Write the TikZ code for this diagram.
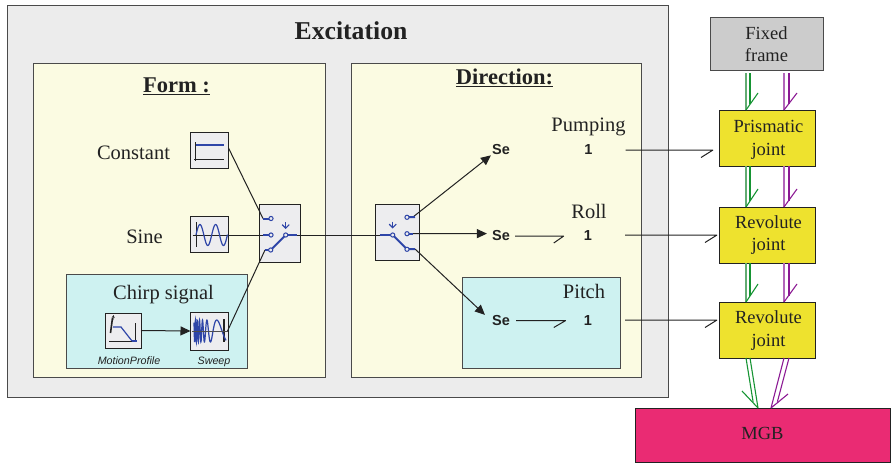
\documentclass[tikz,border=0pt]{standalone}
\usepackage{fontspec}
\setmainfont{Liberation Serif}
\setsansfont{Liberation Sans}
\usetikzlibrary{arrows.meta}
\definecolor{inkc}{HTML}{222222}
\definecolor{edgec}{HTML}{4A4A4A}
\definecolor{outerc}{HTML}{ECECEC}
\definecolor{panelc}{HTML}{FBFBE2}
\definecolor{cyanc}{HTML}{CEF2F1}
\definecolor{blockc}{HTML}{EDEDEF}
\definecolor{yellowc}{HTML}{EEE22E}
\definecolor{pinkc}{HTML}{EA2B73}
\definecolor{greyc}{HTML}{CCCCCC}
\definecolor{bluec}{HTML}{2E45A8}
\definecolor{greenc}{HTML}{169433}
\definecolor{greenl}{HTML}{62AC72}
\definecolor{purpc}{HTML}{8C1A94}
\definecolor{purpl}{HTML}{B267BA}
\newcommand{\dn}[2]{\raisebox{-#1}[12pt][4pt]{#2}}
\tikzset{
 box/.style={rectangle,draw=edgec,line width=1pt,inner sep=0pt,outer sep=0pt,anchor=north west},
 outerbox/.style={box,fill=outerc},
 panel/.style={box,fill=panelc},
 cyanbox/.style={box,fill=cyanc},
 block/.style={box,fill=blockc,draw=inkc,line width=1pt},
 greybox/.style={box,fill=greyc,text=inkc,font=\fontsize{18.5}{22}\selectfont,align=center},
 joint/.style={box,fill=yellowc,draw=inkc,text=inkc,font=\fontsize{18.5}{22.5}\selectfont,align=center},
 mgb/.style={box,fill=pinkc,draw=inkc,text=inkc,font=\fontsize{18.5}{22}\selectfont},
 lab/.style={text=inkc,inner sep=0pt,font=\fontsize{20.5}{24}\selectfont},
 head/.style={text=inkc,inner sep=0pt,font=\fontsize{22.5}{26}\selectfont\bfseries},
 bondlab/.style={text=inkc,inner sep=0pt,font=\fontsize{14.5}{17}\selectfont\sffamily\bfseries},
 small/.style={text=inkc,inner sep=0pt,font=\fontsize{10.7}{13}\selectfont\sffamily\itshape},
 wire/.style={draw=inkc,line width=1pt},
 sig/.style={wire,-{Triangle[length=10pt,width=9pt]}},
 bond/.style={draw=inkc,line width=1pt,line join=bevel},
 dbl/.style={line width=1.1pt,line join=bevel},
 icon/.style={draw=bluec,line width=1.2pt},
 iconb/.style={draw=bluec,line width=2pt},
 axis/.style={draw=inkc,line width=1pt},
 port/.style={circle,draw=bluec,fill=blockc,line width=1pt,inner sep=0pt,minimum size=4.2pt},
}
\begin{document}
\begin{tikzpicture}[x=1pt,y=-1pt]
\useasboundingbox (0,0) rectangle (891,463);
% containers
\node[outerbox,minimum width=661pt,minimum height=392pt] (outer) at (7,5) {};
\node[panel,minimum width=292pt,minimum height=314pt] (formp) at (33,63) {};
\node[panel,minimum width=290pt,minimum height=314pt] (dirp) at (351,63) {};
\node[cyanbox,minimum width=181pt,minimum height=94pt] (chirp) at (66,274) {};
\node[cyanbox,minimum width=158pt,minimum height=91pt] (pitchp) at (462,277) {};
% titles
\node[text=inkc,inner sep=0pt,font=\fontsize{25.7}{30}\selectfont\bfseries] (title) at (351,31) {Excitation};
\node[head] (formt) at (176.5,86) {\underline{Form :}};
\node[head] (dirt) at (504.5,78) {\underline{Direction:}};
% labels
\node[lab] (lconst) at (133.5,153) {Constant};
\node[lab] (lsine) at (144.5,237) {Sine};
\node[lab] (lchirp) at (163.5,295) {Chirp signal};
\node[lab] (lpump) at (588.5,127) {Pumping};
\node[lab] (lroll) at (589,211) {Roll};
\node[lab] (lpitch) at (584,291) {Pitch};
\node[small] (lmotion) at (129,361) {MotionProfile};
\node[small] (lsweep) at (214,362) {Sweep};
% blocks
\node[block,minimum width=38pt,minimum height=36pt] (const) at (190.5,132) {};
\node[block,minimum width=38pt,minimum height=36pt] (sine) at (190.5,216) {};
\node[block,minimum width=36pt,minimum height=35pt] (motion) at (105,313) {};
\node[block,minimum width=38pt,minimum height=38pt] (sweep) at (190.5,312) {};
\node[block,minimum width=41pt,minimum height=58pt] (swa) at (259,204) {};
\node[block,minimum width=44pt,minimum height=56pt] (swb) at (375,204) {};
% bond graph labels
\node[bondlab] (sea) at (501,150) {Se};
\node[bondlab] (seb) at (501,236) {Se};
\node[bondlab] (sec) at (501,320.5) {Se};
\node[bondlab] (onea) at (588.5,150) {1};
\node[bondlab] (oneb) at (588,236) {1};
\node[bondlab] (onec) at (588,320.5) {1};
% mechanical
\node[greybox,minimum width=113pt,minimum height=53pt] (fixed) at (710,17) {\dn{2.5pt}{Fixed}\\\dn{2.5pt}{frame}};
\node[joint,minimum width=96pt,minimum height=56pt] (prism) at (719,110) {\dn{2pt}{\kern3pt Prismatic}\\\dn{2pt}{\kern3pt joint}};
\node[joint,minimum width=96pt,minimum height=56pt] (reva) at (719,207) {\dn{.5pt}{\kern3pt Revolute}\\\dn{.5pt}{\kern3pt joint}};
\node[joint,minimum width=96pt,minimum height=56pt] (revb) at (719,302) {\dn{.5pt}{\kern3pt Revolute}\\\dn{1.5pt}{\kern3pt joint}};
\node[mgb,minimum width=255pt,minimum height=54pt] (mgbn) at (635,408) {\dn{0pt}{MGB}};
% switch ports
\coordinate (a1) at (263,218.5); \coordinate (a2) at (263,235); \coordinate (a3) at (265,250);
\coordinate (ao) at (297,235);
\coordinate (bi) at (380,235);
\coordinate (b1) at (413,217); \coordinate (b2) at (410,233.7); \coordinate (b3) at (415,249);
% wires
\draw[wire] ([yshift=2pt]const.east) -- (a1);
\draw[wire] ([xshift=2pt,yshift=-1pt]sine.west) -- (a2);
\draw[wire] ([xshift=-1pt,yshift=0pt]sweep.east) -- (a3);
\draw[wire] (ao) -- (bi);
\draw[sig] (motion.east) -- (sweep.west);
\draw[sig] (b1) -- ([xshift=-1pt,yshift=0pt]sea.south west);
\draw[sig] (b2) -- ([xshift=-5pt,yshift=2.4pt]seb.west);
\draw[sig] (b3) -- ([xshift=-7pt,yshift=11pt]sec.south west);
% bonds
\draw[bond] ([xshift=5pt]seb.east) -- ([xshift=-20pt]oneb.west) -- ++(-10,7);
\draw[bond] ([xshift=6pt]sec.east) -- ([xshift=-18pt]onec.west) -- ++(-12,7);
\draw[bond] ([xshift=33pt]onea.east) -- ([xshift=-6pt,yshift=-12pt]prism.west) -- ++(-12,7.5);
\draw[bond] ([xshift=33pt,yshift=1pt]oneb.east) -- ([xshift=-2pt]reva.west) -- ++(-12,7.5);
\draw[bond] ([xshift=33pt,yshift=.5pt]onec.east) -- ([xshift=-2pt,yshift=10pt]revb.west) -- ++(-12,7.5);
% double lines
\draw[dbl,draw=greenl] ([xshift=36pt,yshift=-3pt]fixed.south west) -- ([xshift=27pt]prism.north west);
\draw[dbl,draw=greenc] ([xshift=27pt]prism.north west) -- ++(12,-17);
\draw[dbl,draw=greenc] ([xshift=40pt,yshift=-3pt]fixed.south west) -- ([xshift=31pt,yshift=5.7pt]prism.north west);
\draw[dbl,draw=purpl] ([xshift=74pt,yshift=-3pt]fixed.south west) -- ([xshift=65pt]prism.north west);
\draw[dbl,draw=purpc] ([xshift=65pt]prism.north west) -- ++(13,-17);
\draw[dbl,draw=purpc] ([xshift=79pt,yshift=-3pt]fixed.south west) -- ([xshift=70pt,yshift=5.7pt]prism.north west);
\draw[dbl,draw=greenl] ([xshift=27pt]prism.south west) -- ([xshift=27pt]reva.north west);
\draw[dbl,draw=greenc] ([xshift=27pt]reva.north west) -- ++(12,-18);
\draw[dbl,draw=greenc] ([xshift=31pt]prism.south west) -- ([xshift=31pt,yshift=5.7pt]reva.north west);
\draw[dbl,draw=purpl] ([xshift=65pt]prism.south west) -- ([xshift=65pt]reva.north west);
\draw[dbl,draw=purpc] ([xshift=65pt]reva.north west) -- ++(13,-18);
\draw[dbl,draw=purpc] ([xshift=70pt]prism.south west) -- ([xshift=70pt,yshift=5.7pt]reva.north west);
\draw[dbl,draw=greenl] ([xshift=27pt]reva.south west) -- ([xshift=27pt]revb.north west);
\draw[dbl,draw=greenc] ([xshift=27pt]revb.north west) -- ++(12,-18);
\draw[dbl,draw=greenc] ([xshift=31pt]reva.south west) -- ([xshift=31pt,yshift=5.7pt]revb.north west);
\draw[dbl,draw=purpl] ([xshift=65pt]reva.south west) -- ([xshift=65pt]revb.north west);
\draw[dbl,draw=purpc] ([xshift=65pt]revb.north west) -- ++(13,-18);
\draw[dbl,draw=purpc] ([xshift=70pt]reva.south west) -- ([xshift=70pt,yshift=5.7pt]revb.north west);
\draw[dbl,draw=greenc] ([xshift=31pt]revb.south west) -- ([xshift=123pt]mgbn.north west) -- ++(-16,-17);
\draw[dbl,draw=greenc] ([xshift=27pt]revb.south west) -- ([xshift=118.1pt,yshift=6.2pt]mgbn.north west);
\draw[dbl,draw=purpc] ([xshift=65pt]revb.south west) -- ([xshift=136pt]mgbn.north west) -- ++(17,-14);
\draw[dbl,draw=purpc] ([xshift=70pt]revb.south west) -- ([xshift=142.4pt,yshift=6.3pt]mgbn.north west);
% icon: constant
\draw[axis] (195.7,142) -- (195.7,161);
\draw[axis] (194,159) -- (224,159);
\draw[iconb] (196,145) -- (224,145);
% icon: sine
\draw[axis] (196,222) -- (196,247);
\draw[icon,smooth] plot[domain=196:227.5,samples=70] (\x,{235-10.5*sin(360*(\x-196)/15.7)});
% icon: motion profile
\draw[axis,line width=1.6pt] (112.5,318) -- (110.5,333);
\draw[axis,-{Stealth[length=3pt,width=3pt]},line width=.6pt] (113,320) -- (113.5,315);
\draw[axis] (109,341) -- (137,341);
\draw[axis,line width=1.3pt] (135.7,323) -- (135.7,342);
\draw[icon] (113,327) -- (121,327) -- (132,341);
\draw[iconb] (132,341) -- (137,341);
% icon: sweep
\draw[axis,line width=1.3pt] (224,319) -- (224,342);
\draw[icon,smooth] plot[domain=194:226,samples=220] (\x,{331-11*sin(360*(5*((226-\x)/32)^4+1.3*((226-\x)/32))-58)});
\draw[axis,draw=inkc!80] (192,331) -- (228,331);
% switch A
\draw[iconb] (263,218.5) -- (271,218.5);
\draw[iconb] (263,235) -- (271,235);
\draw[iconb] (265,250) -- (270.7,250);
\draw[iconb] (285.7,235) -- (297,235);
\draw[iconb] (285.7,235) -- (270.7,250);
\node[port] (pa1) at (271,218.5) {};
\node[port] (pa2) at (271,235) {};
\node[port] (pa3) at (270.7,250) {};
\node[port] (pao) at (285.7,235) {};
\draw[icon,-{Straight Barb[length=3.5pt,width=7pt]}] (285.7,222) -- (285.7,229);
% switch B
\draw[iconb] (380,235) -- (392.7,235);
\draw[iconb] (392.7,235) -- (407,249.3);
\draw[iconb] (407,217.3) -- (415,217);
\draw[iconb] (407,233.7) -- (413,233.7);
\draw[iconb] (407,249.3) -- (415,249);
\node[port] (pb1) at (407,217.3) {};
\node[port] (pb2) at (407,233.7) {};
\node[port] (pb3) at (407,249.3) {};
\node[port] (pbi) at (392.7,235) {};
\draw[icon,-{Straight Barb[length=3.5pt,width=7pt]}] (392.7,221.5) -- (392.7,228.5);
\end{tikzpicture}
\end{document}
